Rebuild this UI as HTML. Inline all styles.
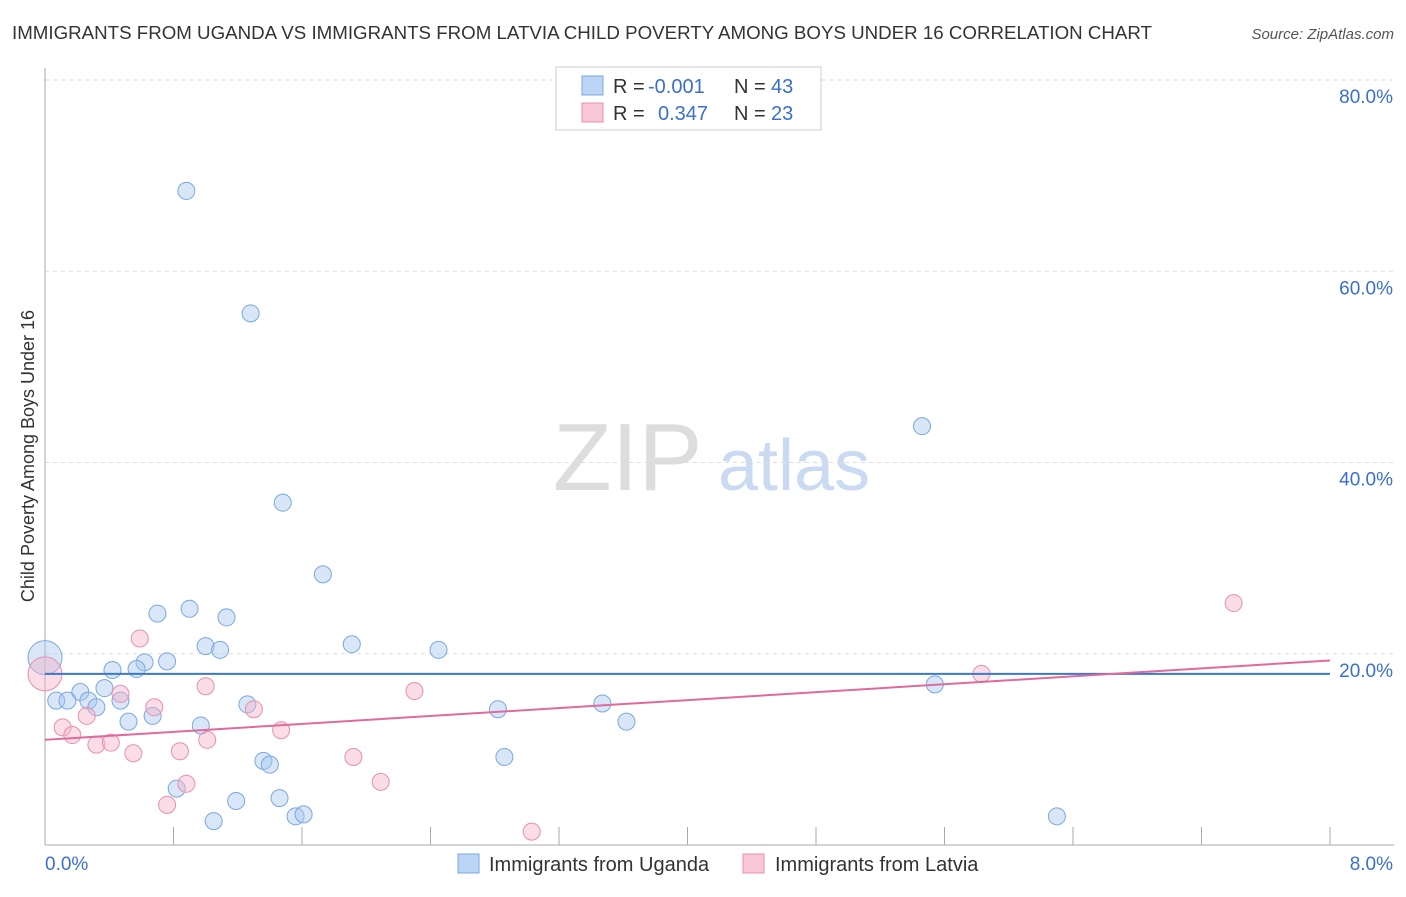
<!DOCTYPE html>
<html><head><meta charset="utf-8"><style>
body{margin:0;background:#fff;font-family:"Liberation Sans",sans-serif;}
svg text{font-family:"Liberation Sans",sans-serif;}
</style></head><body>
<svg id="chart" width="1406" height="892">
<text x="12" y="39" font-size="18" fill="#333" textLength="1140" lengthAdjust="spacingAndGlyphs">IMMIGRANTS FROM UGANDA VS IMMIGRANTS FROM LATVIA CHILD POVERTY AMONG BOYS UNDER 16 CORRELATION CHART</text>
<text x="1394" y="39" font-size="15" fill="#555" text-anchor="end" font-style="italic">Source: ZipAtlas.com</text>
<text x="0" y="0" transform="translate(34,456) rotate(-90)" font-size="18" fill="#333" text-anchor="middle">Child Poverty Among Boys Under 16</text>
<g><text x="553" y="490" font-size="96" fill="#ddd" font-family="Liberation Serif">ZIP</text><text x="718" y="490" font-size="72" fill="#c9daf2">atlas</text></g>
<g id="grid"></g><g id="axes"></g><g id="marks"></g>
<g>
<rect x="556" y="67" width="265" height="63" fill="#fff" stroke="#ccc"/>
<rect x="582" y="76" width="21" height="19" fill="#bcd5f5" stroke="#7aa8e0"/>
<rect x="582" y="103" width="21" height="19" fill="#f9c6d6" stroke="#e88fb0"/>
<text x="613" y="93" font-size="20" fill="#333">R = <tspan x="648" fill="#3a6fd0">-0.001</tspan><tspan x="734">N = </tspan><tspan x="771" fill="#3a6fd0">43</tspan></text>
<text x="613" y="120" font-size="20" fill="#333">R = <tspan x="658" fill="#3a6fd0">0.347</tspan><tspan x="734">N = </tspan><tspan x="771" fill="#3a6fd0">23</tspan></text>
</g>
<g>
<rect x="458" y="854" width="21" height="19" fill="#bcd5f5" stroke="#7aa8e0"/>
<text x="489" y="871" font-size="20" fill="#333">Immigrants from Uganda</text>
<rect x="743" y="854" width="21" height="19" fill="#f9c6d6" stroke="#e88fb0"/>
<text x="775" y="871" font-size="20" fill="#333">Immigrants from Latvia</text>
</g>
</svg>
<script>
const yTicks=[20,40,60,80];
const yTickLabels=["20.0%","40.0%","60.0%","80.0%"];
const xTickCount=[0,0.8,1.6,2.4,3.2,4,4.8,5.6,6.4,7.2,8];
const blueX=[0.88,1.28,5.46,1.48,1.73,0.70,0.90,1.13,1.91,2.45,1.00,1.09,0.76,0.62,0.42,0.57,0.22,0.37,0.07,0.14,0.27,0.32,0.47,1.26,2.82,3.47,5.54,0.67,0.52,0.97,3.62,2.86,1.36,1.40,0.82,1.19,1.46,1.05,1.56,1.61,6.30];
const blueY=[68.4,55.6,43.8,35.8,28.3,24.2,24.7,23.8,21.0,20.4,20.8,20.4,19.2,19.1,18.3,18.4,16.0,16.4,15.1,15.1,15.1,14.4,15.1,14.7,14.2,14.8,16.8,13.5,12.9,12.5,12.9,9.2,8.8,8.4,5.9,4.6,4.9,2.5,3.0,3.2,3.0];
const pinkX=[7.40,0.59,1.00,0.47,2.30,0.68,1.30,0.26,0.11,0.17,1.47,0.32,0.41,1.01,0.84,0.55,1.92,0.88,2.09,0.76,3.03,5.83];
const pinkY=[25.3,21.6,16.6,15.8,16.1,14.4,14.2,13.5,12.3,11.5,12.0,10.5,10.7,11.0,9.8,9.6,9.2,6.4,6.6,4.2,1.4,17.9];
const bigPoints=[{x:0,y:19.6,s:"blue"},{x:0,y:17.9,s:"pink"}];
const blueTrend=[17.9,17.9];
const pinkTrend=[11.0,19.3];
const NS="http://www.w3.org/2000/svg";
const X0=45,X1=1330,Y0=845,Y80=80;
function sx(v){return X0+(X1-X0)*v/8;}
function sy(v){return Y0-(Y0-Y80)*v/80;}
function mk(tag,a,parent){const e=document.createElementNS(NS,tag);for(const k in a)e.setAttribute(k,a[k]);document.getElementById(parent).appendChild(e);return e;}
yTicks.forEach((t,i)=>{
 const g=mk("line",{x1:X0,x2:1394,y1:sy(t),y2:sy(t),stroke:"#ddd","stroke-dasharray":"4,4"},"grid");
 
 
 const l=mk("text",{x:1393,y:sy(t)+23,"text-anchor":"end","font-size":19,fill:"#3a6fd0"},"grid");
 l.textContent=yTickLabels[i];
 
 
});
const ax=mk("line",{x1:X0,x2:X0,y1:68,y2:Y0,stroke:"#aaa"},"axes");


const bx=mk("line",{x1:X0,x2:1394,y1:Y0,y2:Y0,stroke:"#aaa"},"axes");


xTickCount.forEach(t=>{
 const e=mk("line",{x1:sx(t),x2:sx(t),y1:827,y2:Y0,stroke:"#aaa"},"axes");
 
 
});
const xl0=mk("text",{x:45,y:870,"font-size":19,fill:"#3a6fd0"},"axes");xl0.textContent="0.0%";


const xl1=mk("text",{x:1393,y:870,"font-size":19,fill:"#3a6fd0","text-anchor":"end"},"axes");xl1.textContent="8.0%";


bigPoints.forEach(p=>{
 const c=mk("circle",{cx:sx(p.x),cy:sy(p.y),r:17,fill:p.s=="blue"?"rgba(168,200,240,0.45)":"rgba(245,180,200,0.45)",stroke:p.s=="blue"?"#7aa8e0":"#e88fb0"},"marks");
 
 
});
blueX.forEach((v,i)=>{
 const c=mk("circle",{cx:sx(v),cy:sy(blueY[i]),r:8.5,fill:"rgba(168,200,240,0.45)",stroke:"#7aa8e0"},"marks");
 
 
});
pinkX.forEach((v,i)=>{
 const c=mk("circle",{cx:sx(v),cy:sy(pinkY[i]),r:8.5,fill:"rgba(245,180,200,0.45)",stroke:"#e88fb0"},"marks");
 
 
});
const bt=mk("line",{x1:sx(0),x2:sx(8),y1:sy(blueTrend[0]),y2:sy(blueTrend[1]),stroke:"#3a78d0","stroke-width":2},"marks");


const pt=mk("line",{x1:sx(0),x2:sx(8),y1:sy(pinkTrend[0]),y2:sy(pinkTrend[1]),stroke:"#e06a9a","stroke-width":2},"marks");


</script>
</body></html>
